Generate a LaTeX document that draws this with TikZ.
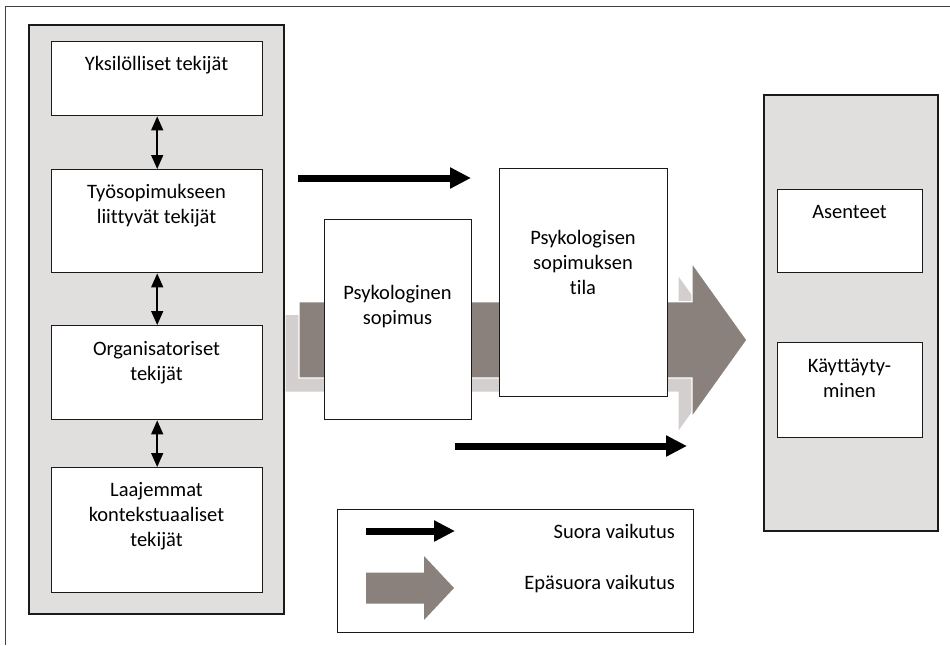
\documentclass[tikz,border=0pt]{standalone}
\usepackage{fontspec}
\setmainfont{Carlito}[Ligatures=NoCommon]
\usetikzlibrary{arrows.meta,calc}
\definecolor{panelgray}{HTML}{E0DFDD}
\definecolor{flowdark}{HTML}{8A817C}
\definecolor{flowlight}{HTML}{D2CFCE}
\definecolor{inkline}{HTML}{1A1A1A}
% zero-width rule fixing the height of a first text line
\newcommand{\firstline}{\rule{0pt}{17pt}}
\begin{document}
\begin{tikzpicture}[x=1pt,y=-1pt,
  panel/.style={draw=inkline, line width=2pt, fill=panelgray},
  factor/.style={draw=inkline, line width=1.4pt, fill=white, anchor=north west, inner sep=0pt},
  bodytext/.style={font=\fontsize{20.5}{25}\selectfont, align=center, inner sep=0pt},
  toptext/.style={bodytext, anchor=north},
  linetext/.style={bodytext, anchor=base},
  direct/.style={line width=7pt, -{Triangle[width=20pt,length=21pt]}},
  link/.style={line width=1.5pt, {Triangle[width=12pt,length=14pt]}-{Triangle[width=12pt,length=14pt]}},
  indirect/.style={fill=flowdark, draw=white, line width=1.2pt},
  shadowflow/.style={fill=flowlight},
  ]
\useasboundingbox (0,0) rectangle (950,645);
\fill[white] (0,0) rectangle (950,645);

% outer frame (top and left edges)
\draw[line width=1pt, draw=black!75] (950,6) -- (5,6) -- (5,645);

% left panel: background factors
\node[panel, anchor=north west, inner sep=0pt, minimum width=255pt, minimum height=589pt] (leftpanel) at (28,24) {};
\node[factor, minimum width=211pt, minimum height=74pt]  (indiv) at (51,41) {};
\node[factor, minimum width=211pt, minimum height=103pt] (job)   at (51,169) {};
\node[factor, minimum width=211pt, minimum height=94pt]  (org)   at (51,325) {};
\node[factor, minimum width=211pt, minimum height=125pt] (ctx)   at (51,467) {};

\node[linetext] (indivtxt) at (156.5,70.5) {Yksilölliset tekijät};
\node[toptext]  (jobtxt)   at (156.5,181) {\firstline Työsopimukseen\\liittyvät tekijät};
\node[toptext]  (orgtxt)   at (156.5,338.5) {\firstline Organisatoriset\\tekijät};
\node[toptext]  (ctxtxt)   at (156.5,479) {\firstline Laajemmat\\kontekstuaaliset\\tekijät};

\draw[link] (indiv.south) -- (job.north);
\draw[link] (job.south) -- (org.north);
\draw[link] (org.south) -- (ctx.north);

% indirect influence: shadow and main broad arrow
\path[shadowflow] (285.5,315.2) -- (678.5,315.2) -- (678.5,276.5) -- (733.5,353.5)
  -- (678.5,430.5) -- (678.5,391.5) -- (285.5,391.5) -- cycle;
\path[indirect] (299,301.7) -- (692,301.7) -- (692,263) -- (747,340)
  -- (692,417) -- (692,378) -- (299,378) -- cycle;

% psychological contract boxes
\node[factor, minimum width=147pt, minimum height=200pt] (contract) at (324,219) {};
\node[factor, minimum width=168pt, minimum height=228pt] (state)    at (499,168) {};
\node[toptext] (contracttxt) at (397.5,282) {\firstline Psykologinen\\sopimus};
\node[toptext] (statetxt)    at (583,227.5) {\firstline Psykologisen\\sopimuksen\\tila};

% direct influence arrows
\coordinate (topstart) at (298,178);
\coordinate (topend)   at (471,178);
\coordinate (lowstart) at (455,446);
\coordinate (lowend)   at (687,446);
\draw[direct] (topstart) -- (topend);
\draw[direct] (lowstart) -- (lowend);

% right panel: outcomes
\node[panel, anchor=north west, inner sep=0pt, minimum width=174pt, minimum height=436pt] (rightpanel) at (763,94) {};
\node[factor, minimum width=145pt, minimum height=83pt] (attitude) at (777,189) {};
\node[factor, minimum width=145pt, minimum height=95pt] (behav)    at (777,342) {};
\node[linetext] (attitudetxt) at (849.5,218.5) {Asenteet};
\node[toptext]  (behavtxt)    at (849.5,355.5) {\firstline Käyttäyty-\\minen};

% legend
\node[draw=inkline, line width=1.4pt, anchor=north west, inner sep=0pt, minimum width=356pt, minimum height=123pt] (legend) at (337,509) {};
\coordinate (legstart) at (366,531);
\coordinate (legend end) at (455,531);
\draw[direct] (legstart) -- (legend end);
\path[fill=flowdark] (366,572.5) -- (424,572.5) -- (424,556) -- (454,588)
  -- (424,620) -- (424,603.5) -- (366,603.5) -- cycle;
\node[bodytext, anchor=base east] (directtxt)   at (675,538) {Suora vaikutus};
\node[bodytext, anchor=base east] (indirecttxt) at (675,589.5) {Epäsuora vaikutus};
\end{tikzpicture}
\end{document}
